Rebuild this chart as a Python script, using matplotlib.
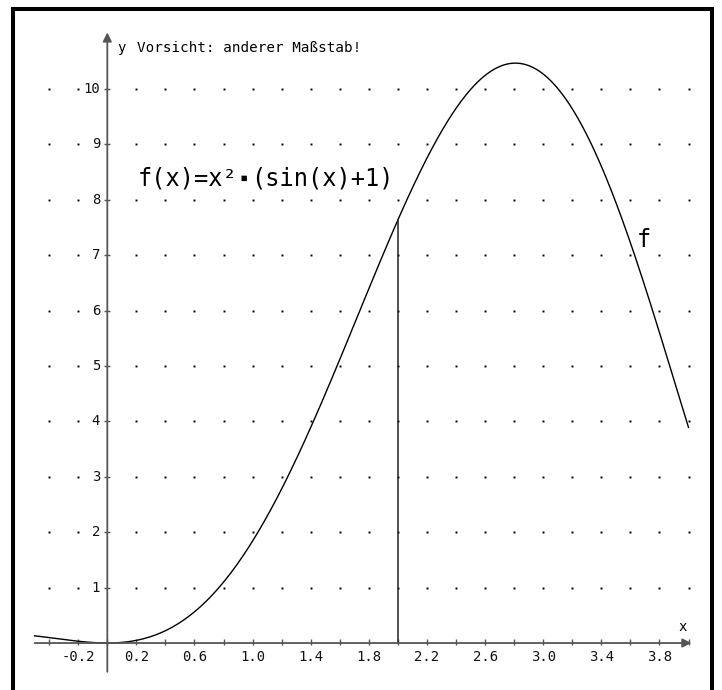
import numpy as np
import matplotlib
matplotlib.use("Agg")
import matplotlib.pyplot as plt

# ---- data ----
x_start, x_end = -0.5, 4.0          # plotted domain of f
x_marked = 2.0                      # vertical line at x = 2
x_tick_vals = [round(-0.4 + 0.2 * i, 1) for i in range(23)]          # minor ticks every 0.2
x_label_vals = [-0.2, 0.2, 0.6, 1.0, 1.4, 1.8, 2.2, 2.6, 3.0, 3.4, 3.8]
x_label_txt = ["-0.2", "0.2", "0.6", "1.0", "1.4", "1.8", "2.2", "2.6", "3.0", "3.4", "3.8"]
y_tick_vals = [1, 2, 3, 4, 5, 6, 7, 8, 9, 10]
y_label_txt = ["1", "2", "3", "4", "5", "6", "7", "8", "9", "10"]
grid_x = [v for v in [round(-0.4 + 0.2 * i, 1) for i in range(23)] if v != 0.0]
grid_y = [1, 2, 3, 4, 5, 6, 7, 8, 9, 10]
title_txt = "Vorsicht: anderer Maßstab!"
formula_parts = ["f(x)=x²", "▪", "(sin(x)+1)"]


def f(x):
    # the function stated on the chart: f(x) = x^2 * (sin(x) + 1)
    return x ** 2 * (np.sin(x) + 1)


MONO = ["DejaVu Sans Mono"]
AX_COL = "#555555"

fig = plt.figure(figsize=(7.22, 6.90), dpi=100)
ax = fig.add_axes([0, 0, 1, 1])
ax.set_xlim(-0.7385, 4.2305)
ax.set_ylim(-0.848, 11.606)
ax.axis("off")

# frame
fr_l, fr_r, fr_t, fr_b = 13 / 722, 712 / 722, 1 - 9 / 690, -0.05
ax.plot([fr_l, fr_l, fr_r, fr_r], [fr_b, fr_t, fr_t, fr_b], transform=ax.transAxes,
        color="black", lw=2.9, solid_joinstyle="miter", clip_on=False)

# dot grid
gx, gy = np.meshgrid(grid_x, grid_y)
ax.plot(gx.ravel(), gy.ravel(), ls="none", marker="s", markersize=1.4,
        color="black", markeredgewidth=0)

# axes with arrows
ax.annotate("", xy=(4.02, 0), xytext=(x_start, 0),
            arrowprops=dict(arrowstyle="-|>", mutation_scale=13, lw=1.3,
                            color=AX_COL, shrinkA=0, shrinkB=0))
ax.annotate("", xy=(0, 11.02), xytext=(0, -0.52),
            arrowprops=dict(arrowstyle="-|>", mutation_scale=13, lw=1.3,
                            color=AX_COL, shrinkA=0, shrinkB=0))

# ticks
ax.plot(x_tick_vals, [0.02] * len(x_tick_vals), ls="none", marker="|",
        markersize=5, markeredgewidth=1.0, color=AX_COL)
ax.plot([0] * len(y_tick_vals), y_tick_vals, ls="none", marker="_",
        markersize=5, markeredgewidth=1.0, color=AX_COL)

# tick labels
for v, t in zip(x_label_vals, x_label_txt):
    ax.text(v, -0.26, t, ha="center", va="center", fontsize=10, family=MONO,
            color="#111111")
for v, t in zip(y_tick_vals, y_label_txt):
    ax.text(-0.05, v, t, ha="right", va="center", fontsize=10, family=MONO,
            color="#111111")

# curve
xs = np.linspace(x_start, x_end, 600)
ax.plot(xs, f(xs), color="black", lw=1.0)

# vertical line at x = 2
ax.plot([x_marked, x_marked], [0, f(x_marked)], color="#222222", lw=1.1)

# texts
ax.text(0.07, 10.74, "y", ha="left", va="center", fontsize=10, family=MONO)
ax.text(0.205, 10.74, title_txt, ha="left", va="center", fontsize=10.3, family=MONO)
ax.text(3.96, 0.29, "x", ha="center", va="center", fontsize=10, family=MONO)

# formula, built from pieces so the multiplication square can be smaller
t1 = ax.text(0.21, 8.39, formula_parts[0], ha="left", va="center", fontsize=17,
             family=MONO)
fig.canvas.draw()
bb = t1.get_window_extent()
inv = ax.transData.inverted()
x_after1 = inv.transform((bb.x1, bb.y0))[0]
t2 = ax.text(x_after1 + 0.045, 8.39, formula_parts[1], ha="center", va="center",
             fontsize=10, family=MONO)
t3 = ax.text(x_after1 + 0.09, 8.39, formula_parts[2], ha="left", va="center",
             fontsize=17, family=MONO)
ax.text(3.695, 7.27, "f", ha="center", va="center", fontsize=17, family=MONO)

fig.savefig("out.png", dpi=100)
